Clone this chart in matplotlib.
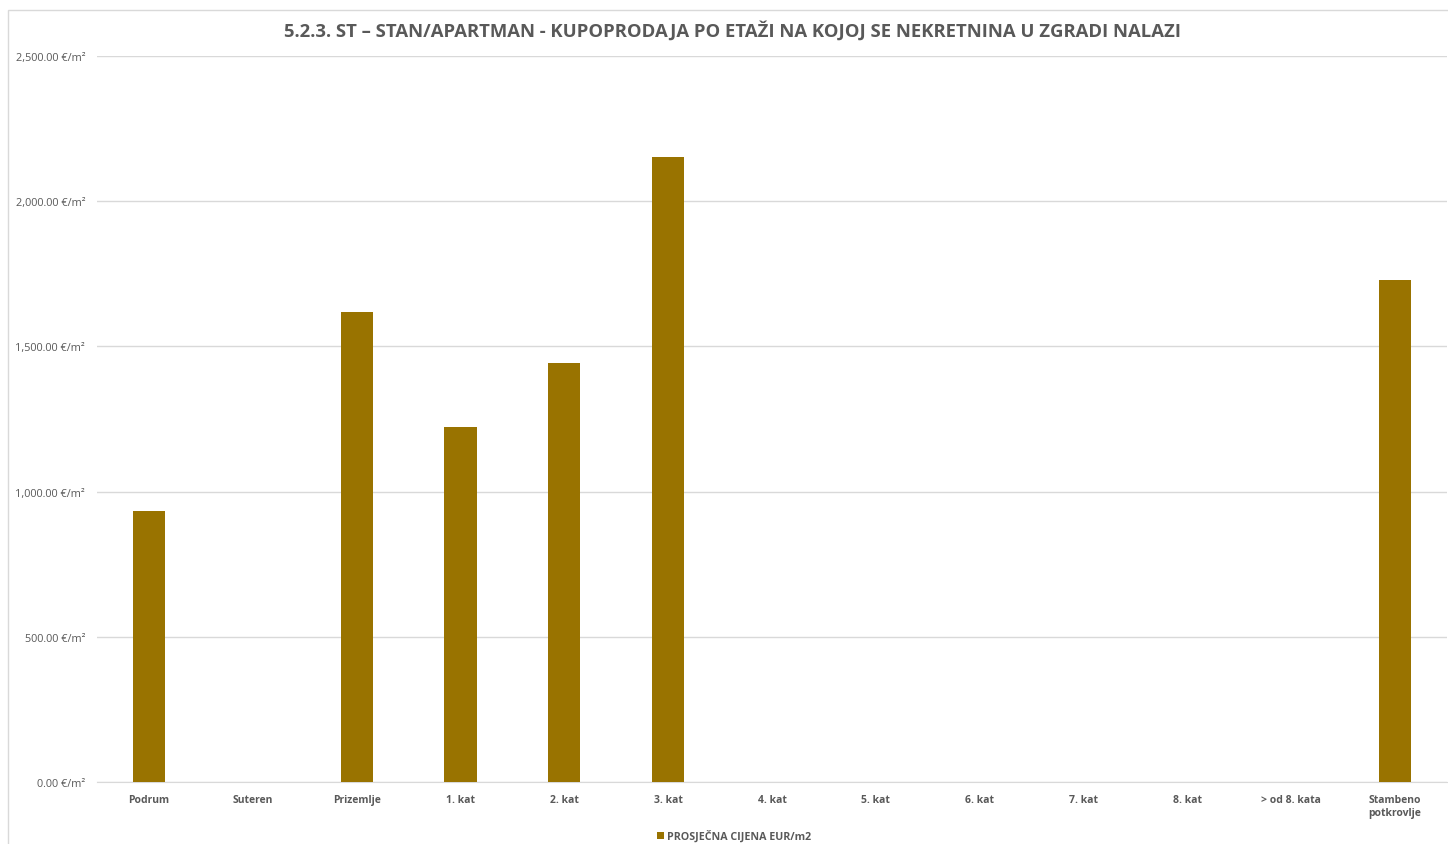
import matplotlib.pyplot as plt
import numpy as np
from matplotlib.patches import Rectangle

# podaci
katovi = ["Podrum", "Suteren", "Prizemlje", "1. kat", "2. kat", "3. kat", "4. kat",
          "5. kat", "6. kat", "7. kat", "8. kat", "> od 8. kata", "Stambeno\npotkrovlje"]
cijene = [933, 0, 1619, 1222, 1443, 2151, 0, 0, 0, 0, 0, 0, 1729]
y_ticks = [0, 500, 1000, 1500, 2000, 2500]

title = "5.2.3. ST \u2013 STAN/APARTMAN - KUPOPRODAJA PO ETAŽI NA KOJOJ SE NEKRETNINA U ZGRADI NALAZI"
legend_label = "PROSJEČNA CIJENA EUR/m2"

bar_color = "#997300"
text_color = "#595959"
grid_color = "#d9d9d9"

plt.rcParams['font.family'] = ['Open Sans', 'DejaVu Sans']

fig = plt.figure(figsize=(14.48, 8.45), dpi=100)
ax = fig.add_axes([97/1448, 1 - 783/845, 1350/1448, (783 - 57)/845])

# okvir grafikona
fig.patches.append(Rectangle((8/1448, -0.1), 1.2, 1 - 11/845 + 0.1, transform=fig.transFigure,
                             fill=False, edgecolor=grid_color, linewidth=1))

x = np.arange(len(katovi))
ax.bar(x, cijene, width=0.31, color=bar_color, label=legend_label, zorder=3)

ax.set_xlim(-0.5, len(katovi) - 0.5)
ax.set_ylim(0, 2500)
ax.set_yticks(y_ticks)
ax.set_yticklabels([f"{v:,.2f} €/m²" for v in y_ticks], fontsize=7.8, color=text_color)
ax.set_xticks(x)
ax.set_xticklabels(katovi, fontsize=7.5, fontweight='bold', color=text_color, va='top')
ax.tick_params(axis='both', length=0)
ax.tick_params(axis='x', pad=9)
ax.tick_params(axis='y', pad=8.5)

ax.grid(axis='y', color=grid_color, linewidth=1, zorder=0)
for s in ['top', 'right', 'left']:
    ax.spines[s].set_visible(False)
ax.spines['bottom'].set_color(grid_color)

fig.text(732/1448, 1 - 31/845, title, ha='center', va='center', fontsize=13.3,
         fontweight='bold', color=text_color)

fig.legend(loc='center', bbox_to_anchor=(734/1448, 1 - 837/845), frameon=False,
           handlelength=0.7, handleheight=0.7, handletextpad=0.3,
           labelcolor=text_color, prop={'weight': 'bold', 'size': 7.7})

fig.savefig("out.png", dpi=100)
